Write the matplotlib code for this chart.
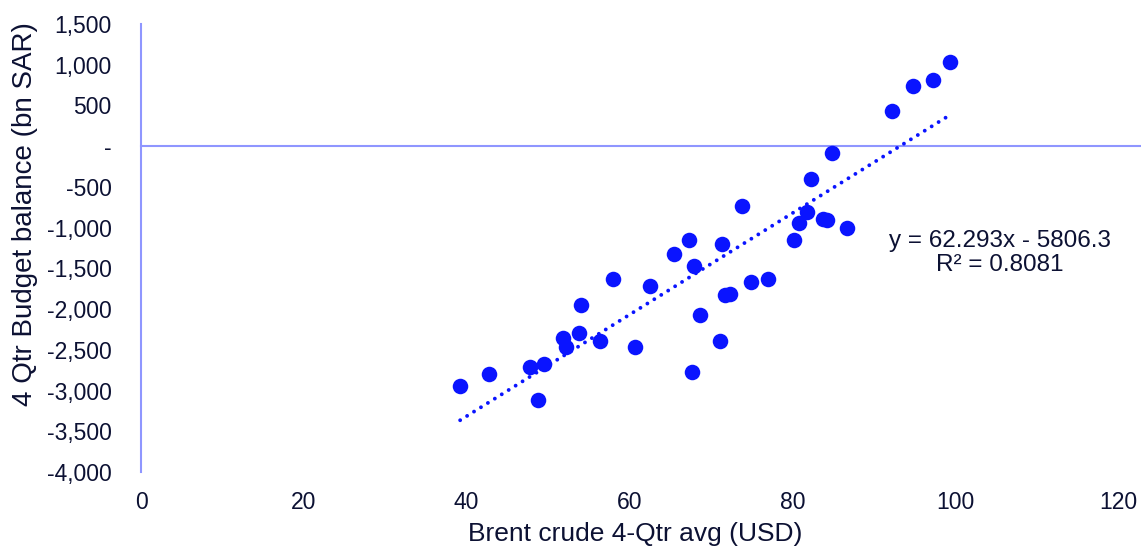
import numpy as np
import matplotlib.pyplot as plt

plt.rcParams['font.family'] = ['Liberation Sans', 'DejaVu Sans']

# Brent 4-qtr average (USD) vs 4-qtr budget balance (bn SAR)
brent = [39.2, 42.8, 47.8, 48.8, 49.5, 51.8, 52.2, 53.8, 54.1, 56.4,
         58.0, 60.7, 62.5, 65.5, 67.3, 67.7, 67.9, 68.7, 71.1, 71.3,
         71.7, 72.3, 73.8, 74.9, 77.0, 80.2, 80.8, 81.8, 82.3, 83.8,
         84.3, 84.9, 86.7, 92.3, 94.8, 97.3, 99.4]
balance = [-2945, -2797, -2712, -3117, -2675, -2356, -2466, -2294, -1951, -2393,
           -1632, -2466, -1718, -1325, -1153, -2773, -1472, -2074, -2393, -1202,
           -1828, -1816, -736, -1669, -1632, -1153, -945, -810, -405, -900,
           -912, -86, -1006, 429, 736, 810, 1031]

# Excel linear trendline as shown in its label
slope = 62.293
intercept = -5806.3
r2 = 0.8081

x_ticks = list(range(0, 121, 20))
y_ticks = list(range(-4000, 1501, 500))

dot_color = '#0a14ff'
axis_color = '#8f96ff'
text_color = '#0c1133'

fig = plt.figure(figsize=(11.41, 5.5), dpi=100)
ax = fig.add_axes([141/1141, 1 - 472/550, (1118 - 141)/1141, (472 - 24)/550])

ax.scatter(brent, balance, s=125, color=dot_color, zorder=3, linewidths=0)

# dotted trendline
xs = np.array([min(brent), max(brent)])
ax.plot(xs, slope*xs + intercept, color=dot_color, lw=2.8,
        linestyle=(0, (0.001, 2.1)), dash_capstyle='round', zorder=2)

ax.set_xlim(0, 120)
ax.set_ylim(-4000, 1500)
ax.set_xticks(x_ticks)
ax.set_yticks(y_ticks)
ax.set_yticklabels(['-' if v == 0 else f'{v:,}' for v in y_ticks])

for s in ['top', 'right', 'bottom']:
    ax.spines[s].set_visible(False)
ax.spines['left'].set_color(axis_color)
ax.spines['left'].set_linewidth(1.5)
ax.plot([0, 123], [0, 0], color=axis_color, lw=1.5, zorder=1, clip_on=False)
ax.tick_params(length=0, labelsize=16.5, labelcolor=text_color)
ax.tick_params(axis='y', pad=21)
ax.tick_params(axis='x', pad=14)

ax.set_xlabel('Brent crude 4-Qtr avg (USD)', fontsize=19, color=text_color)
ax.set_ylabel('4 Qtr Budget balance (bn SAR)', fontsize=20, color=text_color)
ax.xaxis.set_label_coords((635 - 141)/977, (472 - 522)/448)
ax.yaxis.set_label_coords((38 - 141)/977, (472 - 214)/448)

ax.text(1000, 550 - 253, f'y = {slope}x - {abs(intercept)}\nR² = {r2}',
        transform=None, fontsize=17.5, color=text_color,
        ha='center', va='center', linespacing=1.1)

fig.savefig('out.png', dpi=100)
